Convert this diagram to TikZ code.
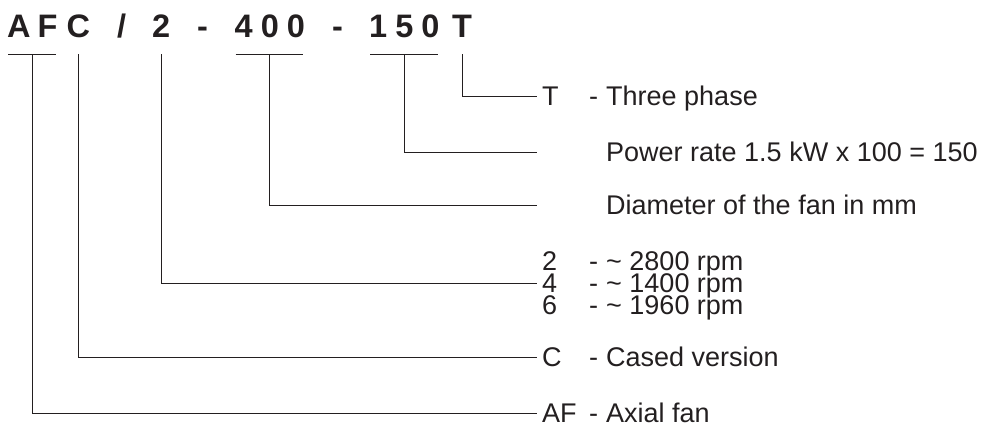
\documentclass[tikz,border=0pt]{standalone}
\usepackage{fontspec}
\setmainfont{Liberation Sans}
\definecolor{ink}{RGB}{35,31,32}
\newcommand{\codeline}[2]{\makebox[47pt][l]{#1}\makebox[17pt][l]{-}#2}
\newcommand{\noteline}[1]{\hspace*{64pt}#1}
\tikzset{
  code/.style={font=\fontsize{32.5}{32.5}\selectfont\bfseries, inner sep=0pt, anchor=base west, text=ink},
  entry/.style={font=\fontsize{27}{27}\selectfont, inner xsep=5pt, inner ysep=0pt, anchor=west, text height=19.3pt, text depth=0pt, text=ink},
  underline/.style={draw=ink, line width=0.9pt, shorten <=1pt, shorten >=2pt},
  lead/.style={draw=ink, line width=0.9pt},
}
\begin{document}
\begin{tikzpicture}[x=1pt,y=-1pt]
    \useasboundingbox (0,0) rectangle (991,432);
    % type code
    \node[code] (af) at (7,37) {A\kern7pt F};
    \node[code] (cs) at (66.5,37) {C};
    \node[code] (sl) at (117,37) {/};
    \node[code] (sp) at (152,37) {2};
    \node[code] (ha) at (197,37) {-};
    \node[code] (dm) at (234.5,37) {4\kern8pt 0\kern8pt 0};
    \node[code] (hb) at (332,37) {-};
    \node[code] (pw) at (369,37) {1\kern8pt 5\kern8pt 0};
    \node[code] (ph) at (452,37) {T};
    \draw[underline] ([yshift=-17pt]af.base west) -- ([yshift=-17pt]af.base east);
    \draw[underline] ([yshift=-17pt]dm.base west) -- ([yshift=-17pt]dm.base east);
    \draw[underline] ([yshift=-17pt]pw.base west) -- ([yshift=-17pt]pw.base east);
    % meanings
    \node[entry] (phase) at (537,96) {\codeline{T}{Three phase}};
    \node[entry] (rate) at (537,152) {\noteline{Power rate 1.5 kW x 100 = 150}};
    \node[entry] (diam) at (537,205) {\noteline{Diameter of the fan in mm}};
    \node[entry] (rpm2) at (537,261) {\codeline{2}{\textasciitilde{} 2800 rpm}};
    \node[entry] (rpm4) at (537,283) {\codeline{4}{\textasciitilde{} 1400 rpm}};
    \node[entry] (rpm6) at (537,305) {\codeline{6}{\textasciitilde{} 1960 rpm}};
    \node[entry] (cased) at (537,357) {\codeline{C}{Cased version}};
    \node[entry] (axial) at (537,413) {\codeline{AF}{Axial fan}};
    % leaders
    \draw[lead] ([yshift=-17pt]ph.base) |- (phase.west);
    \draw[lead] ([yshift=-17pt]pw.base) |- (rate.west);
    \draw[lead] ([yshift=-17pt]dm.base) |- (diam.west);
    \draw[lead] ([yshift=-17pt]sp.base) |- (rpm4.west);
    \draw[lead] ([yshift=-17pt]cs.base) |- (cased.west);
    \draw[lead] ([yshift=-17pt]af.base) |- (axial.west);
\end{tikzpicture}
\end{document}
